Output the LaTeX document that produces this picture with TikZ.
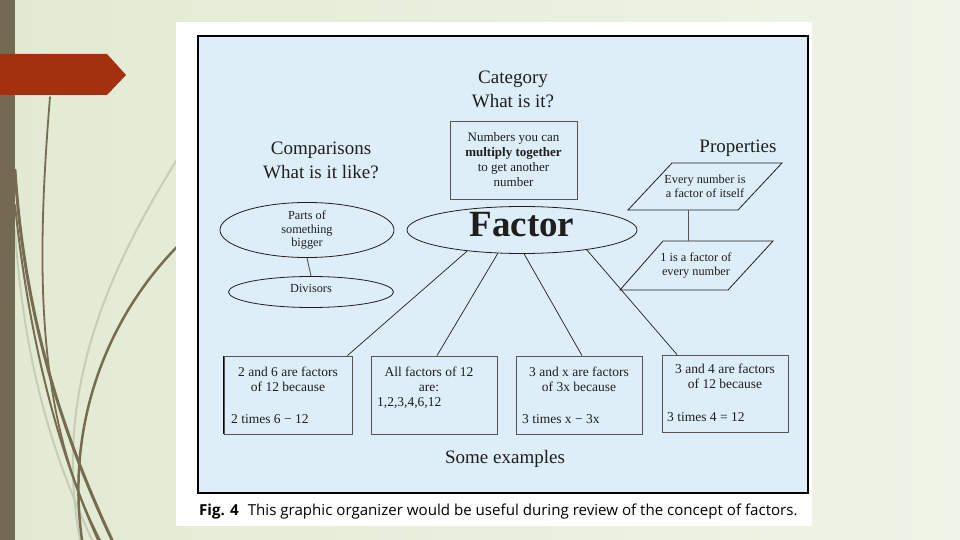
\documentclass[tikz,border=0pt]{standalone}
\usepackage{fontspec}
\setmainfont{Liberation Serif}
\setsansfont{Open Sans}
\usetikzlibrary{shapes.geometric,calc}
\definecolor{bgL}{HTML}{E3EAD2}
\definecolor{bgR}{HTML}{F0F4E8}
\definecolor{barc}{HTML}{746A51}
\definecolor{redc}{HTML}{A3300F}
\definecolor{panel}{HTML}{DDEEF8}
\definecolor{ink}{HTML}{1E1E1E}
\definecolor{edge}{HTML}{555555}
\definecolor{grass}{HTML}{766C52}
\definecolor{grasslt}{HTML}{C6CDB6}
\begin{document}
\begin{tikzpicture}[x=1pt,y=-1pt,
  conn/.style={draw=ink, line width=0.7pt},
  shp/.style={draw=ink, line width=0.8pt},
  bx/.style={draw=edge, line width=0.8pt, inner sep=0pt},
  txt/.style={font=\fontsize{13.5}{15}\selectfont, align=center, inner sep=0pt, text=ink},
  small/.style={font=\fontsize{12.3}{13.8}\selectfont, align=center, inner sep=0pt, text=ink},
  head/.style={font=\fontsize{19}{24}\selectfont, align=center, inner sep=0pt, text=ink},
  grassline/.style={draw=grass, line cap=round}]
\useasboundingbox (0,0) rectangle (960,540);
% slide background
\shade[left color=bgL, right color=bgR] (0,0) rectangle (960,540);
% grass strands
\draw[grasslt, line width=2pt] (186,145) .. controls (120,250) and (50,380) .. (80,540);
\draw[grasslt, line width=2pt] (15,230) .. controls (25,380) and (60,470) .. (92,540);
\draw[grassline, line width=1.8pt] (50,97) .. controls (35,280) and (38,420) .. (100,540);
\draw[grassline, line width=3pt] (15,170) .. controls (25,330) and (70,450) .. (112,540);
\draw[grassline, line width=2pt] (15,205) .. controls (30,350) and (62,460) .. (98,540);
\draw[grassline, line width=2.5pt] (186,238) .. controls (110,310) and (65,420) .. (82,540);
% left bar and red arrow
\fill[barc] (0,0) rectangle (15,540);
\fill[redc] (0,54) -- (107,54) -- (126,75) -- (107,95) -- (0,95) -- cycle;
% white picture area and panel
\fill[white] (176,22) rectangle (812,526);
\draw[line width=2pt, fill=panel] (198,36) rectangle (808,493);

% headings
\node[head] (cat) at (513,89) {Category\\What is it?};
\node[head] (cmp) at (321,160) {Comparisons\\What is it like?};
\node[head] (prop) at (738,148) {Properties};
\node[head] (ex) at (505,459) {Some examples};

% category box
\node[bx, minimum width=127pt, minimum height=78pt, font=\fontsize{13}{15}\selectfont, align=center, text=ink] (what) at (513.5,160)
  {Numbers you can\\\textbf{multiply together}\\to get another\\number};

% central ellipse
\node[shp, ellipse, minimum width=230pt, minimum height=47pt, inner sep=0pt,
  font=\fontsize{37}{40}\selectfont\bfseries, text=ink, text height=22pt, text depth=10pt] (factor) at (522,230) {Factor};

% comparisons ellipses
\node[shp, ellipse, minimum width=174pt, minimum height=46pt, inner sep=0pt, small] (parts) at (307,230)
  {Parts of\\something\\bigger};
\node[shp, ellipse, minimum width=165pt, minimum height=31pt, inner sep=0pt, small, text height=6pt, text depth=6pt] (div) at (311,292) {Divisors};
\draw[draw=edge, line width=0.9pt] (parts.south) -- (div.north);

% properties parallelograms
\node[small, minimum width=100pt, minimum height=47pt] (p1) at (705,186.5) {Every number is\\a factor of itself};
\draw[shp] ($(p1.center)+(-33,-23.5)$) -- ($(p1.center)+(77,-23.5)$) -- ($(p1.center)+(33,23.5)$) -- ($(p1.center)+(-77,23.5)$) -- cycle;
\node[small, minimum width=100pt, minimum height=49pt] (p2) at (696,265.5) {1 is a factor of\\every number};
\draw[shp] ($(p2.center)+(-33,-24.5)$) -- ($(p2.center)+(77,-24.5)$) -- ($(p2.center)+(32,24.5)$) -- ($(p2.center)+(-76,24.5)$) -- cycle;
\draw[draw=edge, line width=0.9pt] ([xshift=-17pt]p1.south) -- ([xshift=-8pt]p2.north);

% example boxes
\node[bx, minimum width=128pt, minimum height=78pt] (b1) at (288,395) {};
\draw[line width=1.6pt, black] (b1.north west) -- (b1.south west);
\node[bx, minimum width=126pt, minimum height=78pt] (b2) at (434,395) {};
\node[bx, minimum width=126pt, minimum height=78pt] (b3) at (579,395) {};
\node[bx, minimum width=126pt, minimum height=77pt] (b4) at (725,393.5) {};

\node[txt] (b1a) at (288,379.5) {2 and 6 are factors\\of 12 because};
\node[txt, anchor=west] (b1b) at (231,419) {2 times 6 − 12};
\node[txt] (b2a) at (429,379.5) {All factors of 12\\are:};
\node[txt, anchor=west] (b2b) at (377,403) {1,2,3,4,6,12};
\node[txt] (b3a) at (579,379.5) {3 and x are factors\\of 3x because};
\node[txt, anchor=west] (b3b) at (522,419) {3 times x − 3x};
\node[txt] (b4a) at (725,376) {3 and 4 are factors\\of 12 because};
\node[txt, anchor=west] (b4b) at (667,417) {3 times 4 = 12};

% connectors from Factor
\draw[conn] (factor.201) -- ([xshift=-5pt]b1.north east);
\draw[conn] (factor.224) -- ([xshift=3pt]b2.north);
\draw[conn] (factor.275) -- ([xshift=3pt]b3.north);
\draw[conn] (factor.343) -- ([xshift=-48pt]b4.north);

% caption
\node[anchor=west, inner sep=0pt, font=\sffamily\fontsize{15.1}{17}\selectfont, text=black] (cap) at (199,512)
  {\textbf{Fig. 4}\hspace{0.6em}This graphic organizer would be useful during review of the concept of factors.};
\end{tikzpicture}
\end{document}
